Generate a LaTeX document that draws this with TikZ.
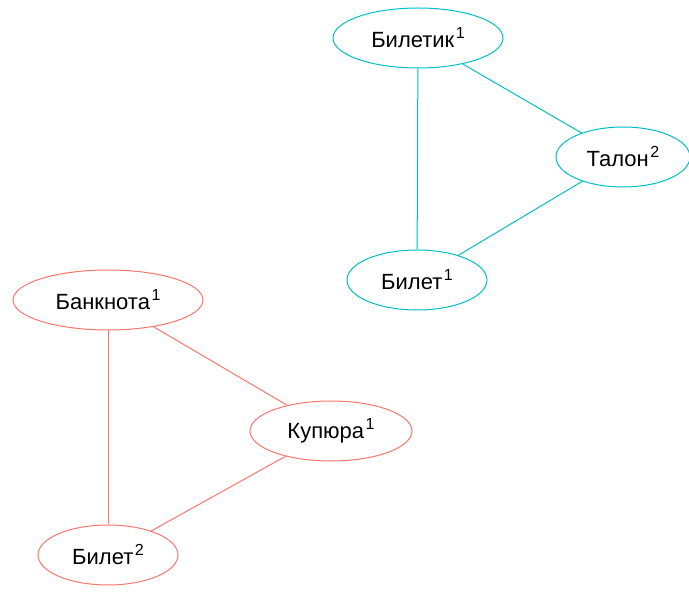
\documentclass[tikz,border=0pt]{standalone}
\usepackage{fontspec}
\setmainfont{Liberation Sans}
\usetikzlibrary{shapes.geometric}
\definecolor{cy}{HTML}{00BFC4}
\definecolor{rd}{HTML}{F8766D}
\newcommand{\supnum}[1]{\kern1.5pt\raisebox{9pt}{\fontsize{16}{16}\selectfont #1}}
\tikzset{
  word/.style={ellipse, draw, line width=1pt, inner sep=0pt, font=\fontsize{22}{24}\selectfont},
  cword/.style={word, draw=cy},
  rword/.style={word, draw=rd},
  cedge/.style={draw=cy, line width=1pt},
  redge/.style={draw=rd, line width=1pt}
}
\begin{document}
\begin{tikzpicture}[x=1pt,y=1pt]
\useasboundingbox (0,0) rectangle (689,592);
\node[cword, minimum width=170, minimum height=60] (biletik) at (418,554) {Билетик\supnum{1}};
\node[cword, minimum width=134, minimum height=60] (talon) at (623,435) {Талон\supnum{2}};
\node[cword, minimum width=140, minimum height=60] (bilet1) at (417,312) {Билет\supnum{1}};
\node[rword, minimum width=190, minimum height=60] (banknota) at (108,292) {Банкнота\supnum{1}};
\node[rword, minimum width=162, minimum height=60] (kupura) at (331,161) {Купюра\supnum{1}};
\node[rword, minimum width=140, minimum height=60] (bilet2) at (108,37) {Билет\supnum{2}};
\draw[cedge] (biletik) -- (bilet1);
\draw[cedge] (biletik) -- (talon);
\draw[cedge] (talon) -- (bilet1);
\draw[redge] (banknota) -- (bilet2);
\draw[redge] (banknota) -- (kupura);
\draw[redge] (kupura) -- (bilet2);
\end{tikzpicture}
\end{document}
